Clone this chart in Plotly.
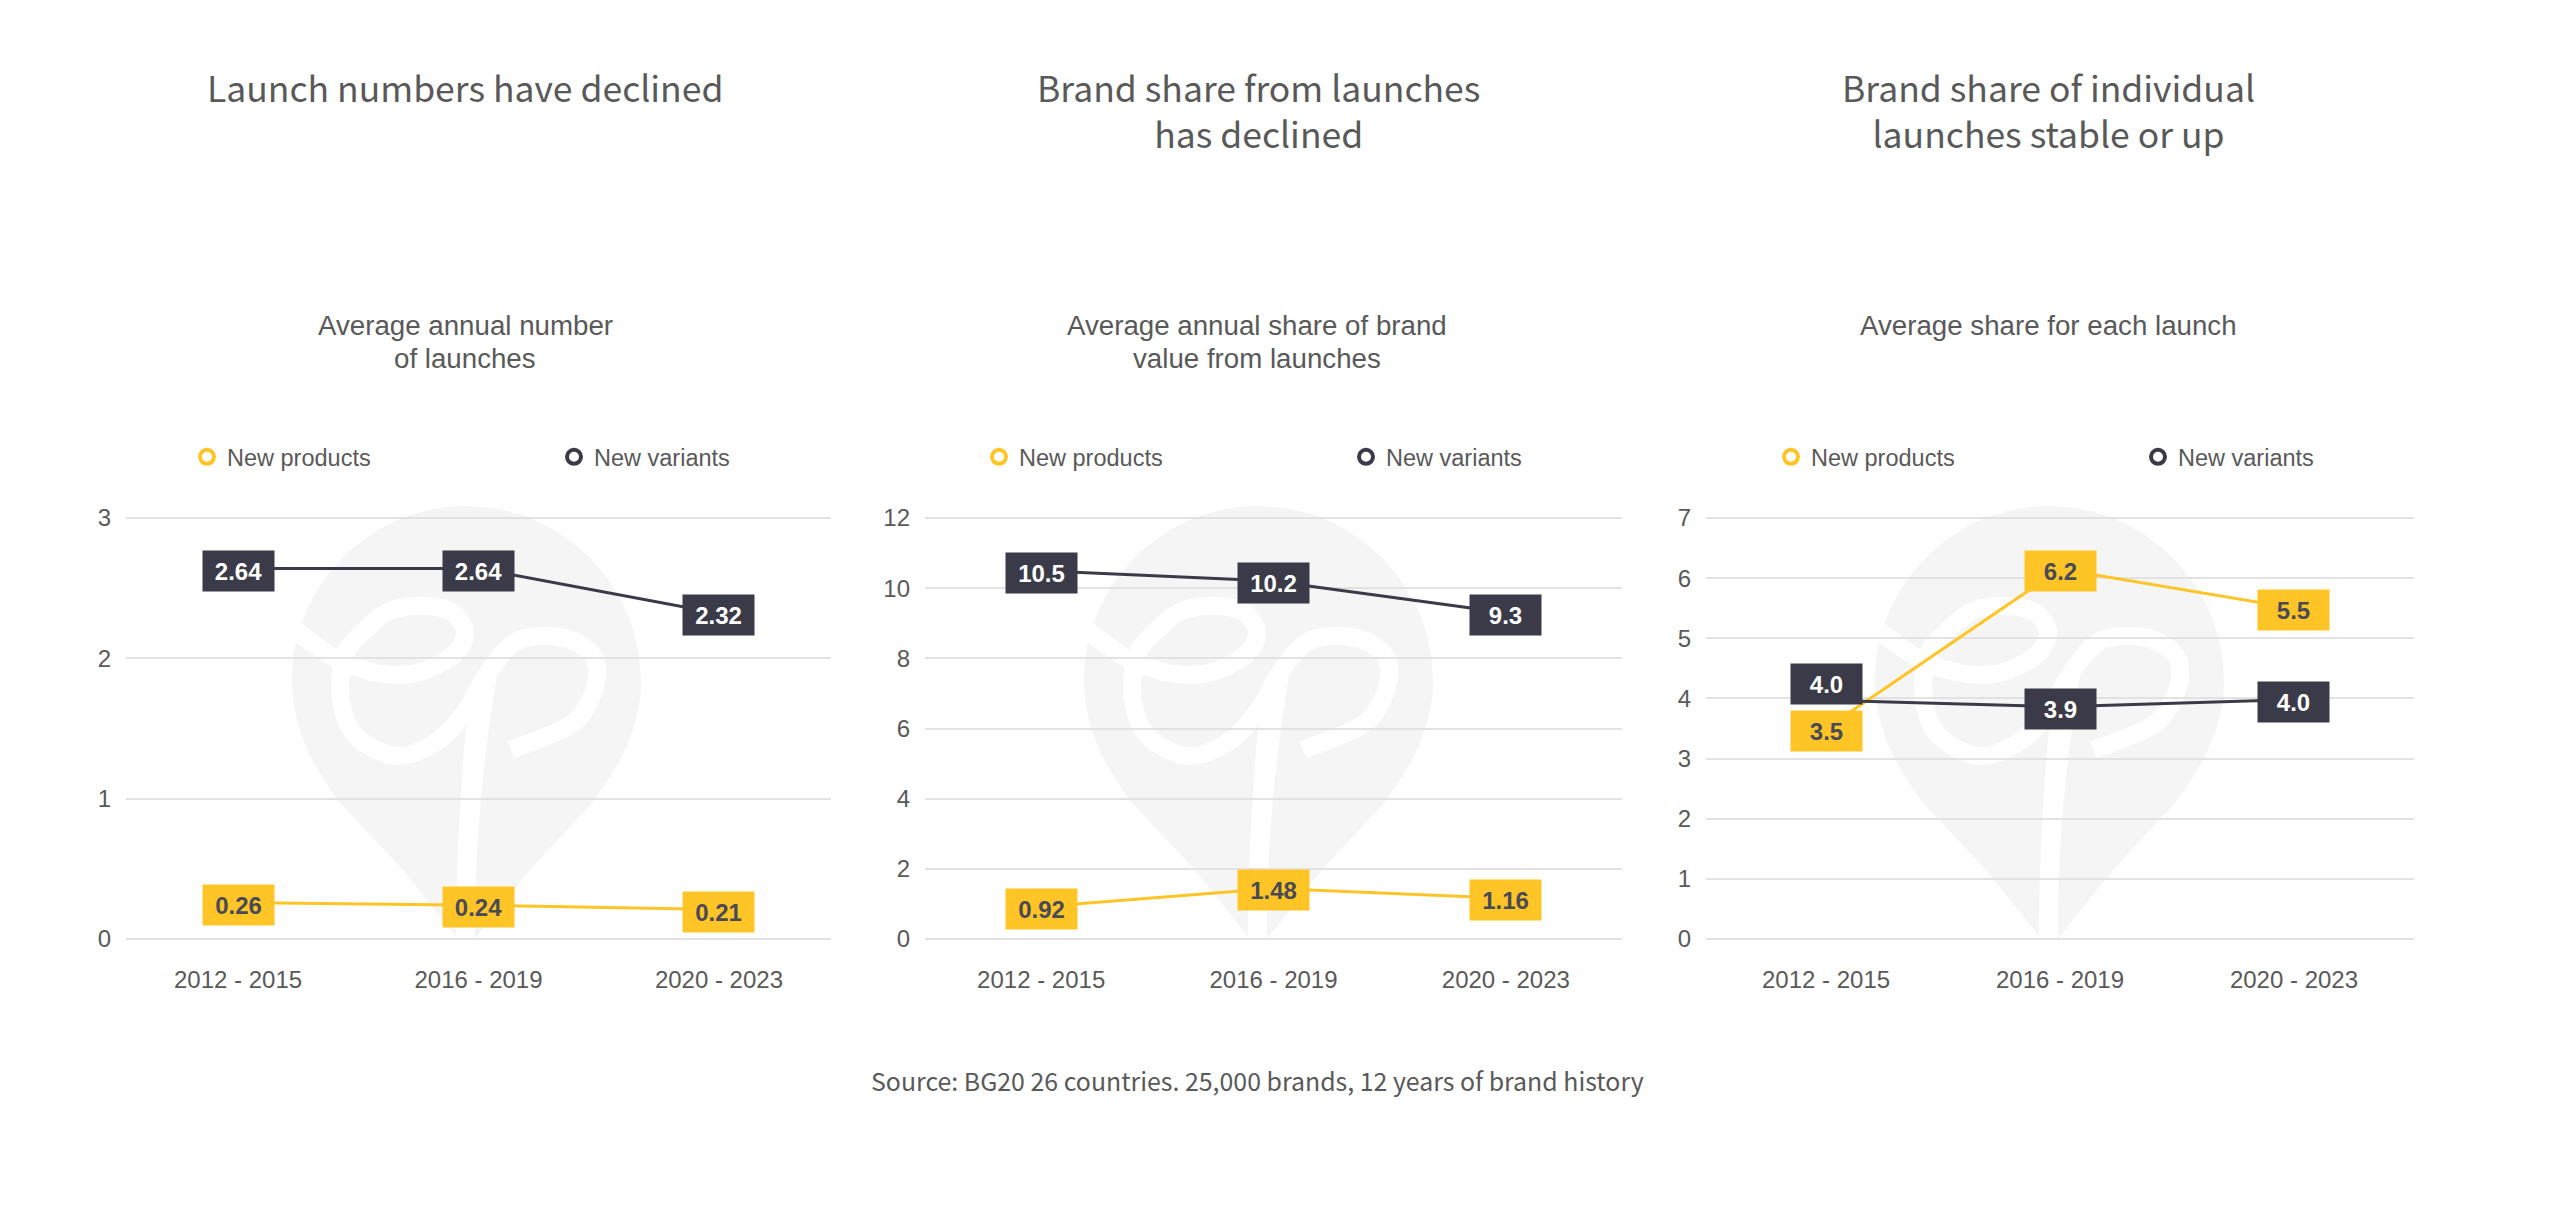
import plotly.graph_objects as go

W, H = 2560, 1227
categories = ["2012 - 2015", "2016 - 2019", "2020 - 2023"]
series_names = ["New products", "New variants"]
YELLOW, DARK = "#FFC527", "#3B3A48"

products_1 = [0.26, 0.24, 0.21]
variants_1 = [2.64, 2.64, 2.32]
products_2 = [0.92, 1.44, 1.16]
variants_2 = [10.5, 10.2, 9.3]
products_3 = [3.5, 6.15, 5.5]
variants_3 = [3.97, 3.86, 3.98]
labels_prod_1 = ["0.26", "0.24", "0.21"]
labels_var_1 = ["2.64", "2.64", "2.32"]
labels_prod_2 = ["0.92", "1.48", "1.16"]
labels_var_2 = ["10.5", "10.2", "9.3"]
labels_prod_3 = ["3.5", "6.2", "5.5"]
labels_var_3 = ["4.0", "3.9", "4.0"]

headings = ["Launch numbers have declined", "Brand share from launches<br>has declined",
            "Brand share of individual<br>launches stable or up"]
subtitles = [["Average annual number", "of launches"], ["Average annual share of brand", "value from launches"],
             ["Average share for each launch"]]
source = "Source: BG20 26 countries. 25,000 brands, 12 years of brand history"

panels = [
    dict(x0=126, x1=831, ymax=3, dtick=1, pad=0.466, prod=products_1, var=variants_1,
         lp=labels_prod_1, lv=labels_var_1, cx=465, off=0, leg=187, shift_v=[0, 0, 0]),
    dict(x0=925, x1=1622, ymax=12, dtick=2, pad=0.5, prod=products_2, var=variants_2,
         lp=labels_prod_2, lv=labels_var_2, cx=1257, off=792, leg=979, shift_v=[0, 0, 0]),
    dict(x0=1706, x1=2414, ymax=7, dtick=1, pad=0.513, prod=products_3, var=variants_3,
         lp=labels_prod_3, lv=labels_var_3, cx=2048, off=1583, leg=1771, shift_v=[18, 0, 0]),
]
Y_TOP, Y_BOT = 518, 939
EDGE_PX = 1.5  # plotly drops gridlines closer than 1px to the axis ends
FONT = "Liberation Sans"
HEAD_FONT = "Noto Sans CJK SC"
GREY = "#595959"


def px(x):
    return x / W


def py(y):
    return 1 - y / H


def pt(x, y, o):
    return f"{(x + o) / W:.5f},{py(y):.5f}"


def smooth(points, o):
    # Catmull-Rom curve through hand-read logo points (decoration only)
    d = "M " + pt(*points[0], o)
    n = len(points)
    for i in range(n - 1):
        p0 = points[max(i - 1, 0)]
        p1 = points[i]
        p2 = points[i + 1]
        p3 = points[min(i + 2, n - 1)]
        c1 = (p1[0] + (p2[0] - p0[0]) / 6, p1[1] + (p2[1] - p0[1]) / 6)
        c2 = (p2[0] - (p3[0] - p1[0]) / 6, p2[1] - (p3[1] - p1[1]) / 6)
        d += f" C {pt(*c1, o)} {pt(*c2, o)} {pt(*p2, o)}"
    return d


def paper_path(cmds, o):
    return " ".join(c if isinstance(c, str) else pt(c[0], c[1], o) for c in cmds)


PIN = ["M", (466, 506),
       "C", (370, 506), (292, 585), (292, 681),
       "C", (292, 730), (315, 770), (340, 803),
       "L", (403, 870), "L", (458, 939), "L", (475, 939), "L", (530, 870), "L", (592, 803),
       "C", (617, 770), (641, 730), (641, 681),
       "C", (641, 585), (562, 506), (466, 506), "Z"]
SWIRL = [(292, 628), (344, 663), (402, 675), (448, 659), (465, 635), (453, 613), (425, 606),
         (390, 611), (362, 633), (344, 657), (341, 700), (356, 736), (396, 756), (436, 742),
         (465, 712), (488, 673), (517, 641), (560, 637), (591, 653), (597, 677), (586, 708),
         (565, 728), (511, 750)]
STEM = ["M", (466, 730), "C", (460, 790), (456, 870), (456, 939), "L", (475, 939),
        "C", (475, 870), (478, 790), (497, 675), "L", (480, 680), "Z"]

fig = go.Figure()
layout = {}
annots, shapes = [], []

for i, p in enumerate(panels, start=1):
    ax = "" if i == 1 else str(i)
    # watermark
    o = p["off"]
    shapes.append(dict(type="path", path=paper_path(PIN, o), xref="paper", yref="paper", layer="below",
                       fillcolor="#F5F5F5", line=dict(width=0)))
    shapes.append(dict(type="path", path=smooth(SWIRL, o), xref="paper", yref="paper", layer="below",
                       fillcolor="rgba(0,0,0,0)", line=dict(width=18, color="#FFFFFF")))
    shapes.append(dict(type="path", path=paper_path(STEM, o), xref="paper", yref="paper", layer="below",
                       fillcolor="#FFFFFF", line=dict(width=0)))

    layout[f"xaxis{ax}"] = dict(domain=[px(p["x0"]), px(p["x1"])], range=[-p["pad"], 2 + p["pad"]],
                                tickmode="array", tickvals=[0, 1, 2], ticktext=categories,
                                showgrid=False, zeroline=False, showline=False, ticks="",
                                tickfont=dict(family=FONT, size=24, color=GREY), anchor=f"y{ax}",
                                ticklabelstandoff=22)
    eps = p["ymax"] * EDGE_PX / (Y_BOT - Y_TOP)
    layout[f"yaxis{ax}"] = dict(domain=[py(Y_BOT + EDGE_PX), py(Y_TOP - EDGE_PX)],
                                range=[-eps, p["ymax"] + eps], dtick=p["dtick"],
                                tick0=0, showgrid=True, gridcolor="#E2E2E2", gridwidth=2, zeroline=False,
                                showline=False, ticks="", tickfont=dict(family=FONT, size=24, color=GREY),
                                anchor=f"x{ax}", ticklabelstandoff=14)
    idx = [0, 1, 2]
    for name, vals, col in [(series_names[0], p["prod"], YELLOW), (series_names[1], p["var"], DARK)]:
        fig.add_trace(go.Scatter(x=idx, y=vals, mode="lines", line=dict(color=col, width=3),
                                 showlegend=False, xaxis=f"x{ax}", yaxis=f"y{ax}", name=name))
    for name, col in [(series_names[0], YELLOW), (series_names[1], DARK)]:
        fig.add_trace(go.Scatter(x=[None], y=[None], mode="markers", name=name,
                                 marker=dict(symbol="circle-open", size=14, color=col,
                                             line=dict(width=4, color=col)),
                                 xaxis=f"x{ax}", yaxis=f"y{ax}", legend=f"legend{ax}"))
    layout[f"legend{ax}"] = dict(orientation="h", x=px(p["leg"]), y=py(457), xanchor="left", yanchor="middle",
                                 entrywidth=322, entrywidthmode="pixels", itemwidth=30,
                                 font=dict(family=FONT, size=23.5, color=GREY), bgcolor="rgba(0,0,0,0)",
                                 itemclick=False, traceorder="normal")
    # value tags
    for vals, labs, bg, fc, shifts in [(p["prod"], p["lp"], YELLOW, "#4A4A55", [0, 0, 0]),
                                       (p["var"], p["lv"], DARK, "#FFFFFF", p["shift_v"])]:
        for j in idx:
            annots.append(dict(x=j, y=vals[j], xref=f"x{ax}", yref=f"y{ax}", text=f"<b>{labs[j]}</b>",
                               showarrow=False, bgcolor=bg, width=71, height=40, borderpad=0,
                               font=dict(family=FONT, size=24, color=fc), yshift=shifts[j] - 2,
                               xanchor="center", yanchor="middle", valign="middle"))
    # heading, subtitle
    annots.append(dict(x=px(p["cx"] + (1 if i == 2 else 0)), y=py(109 if "<br>" in headings[i - 1] else 87),
                       xref="paper", yref="paper", text=headings[i - 1], showarrow=False, yanchor="middle",
                       xanchor="center", font=dict(family=HEAD_FONT, size=35.5, color=GREY), align="center"))
    for k, line in enumerate(subtitles[i - 1]):
        annots.append(dict(x=px(p["cx"]), y=py(325 + 33 * k), xref="paper", yref="paper", text=line,
                           showarrow=False, yanchor="middle", xanchor="center",
                           font=dict(family=FONT, size=27.7, color=GREY), align="center"))

annots.append(dict(x=px(1257), y=py(1080), xref="paper", yref="paper", text=source, showarrow=False,
                   xanchor="center", yanchor="middle", font=dict(family=HEAD_FONT, size=24.9, color=GREY)))

fig.update_layout(width=W, height=H, autosize=False,
                  margin=dict(l=0, r=0, t=0, b=0, autoexpand=False),
                  paper_bgcolor="#FFFFFF", plot_bgcolor="rgba(0,0,0,0)", annotations=annots, shapes=shapes,
                  **layout)
fig.write_html("out.html", config=dict(displayModeBar=False),
               post_script="document.body.style.margin='0';document.body.style.overflow='hidden';")
